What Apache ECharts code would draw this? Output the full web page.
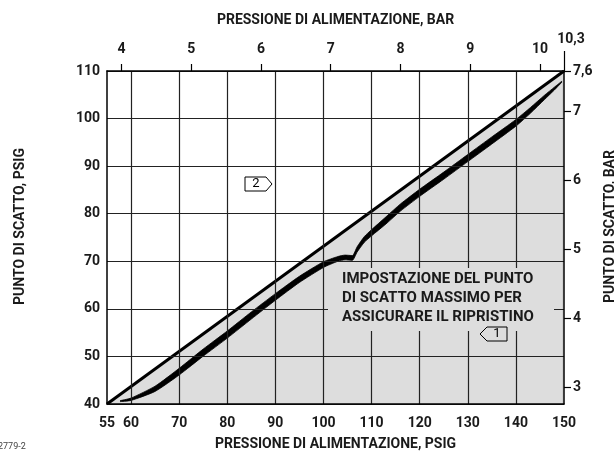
<!DOCTYPE html>
<html>
<head>
<meta charset="utf-8">
<script src="https://cdn.jsdelivr.net/npm/echarts@6/dist/echarts.min.js"></script>
<style>
html, body { margin: 0; padding: 0; background: #fff; }
#main { width: 614px; height: 451px; }
</style>
</head>
<body>
<div id="main"></div>
<script>
// psi per bar, used to line the bar axes up with the psig axes
var PSI_PER_BAR = 14.5;

// bottom axis (psig) labels and grid lines
var psigLabels = [55, 60, 70, 80, 90, 100, 110, 120, 130, 140, 150];
var psigGrid = [60, 70, 80, 90, 100, 110, 120, 130, 140];
// top axis (bar)
var barTopTicks = [4, 5, 6, 7, 8, 9, 10];
// right axis (bar)
var barRightTicks = [3, 4, 5, 6, 7];

// straight limit line
var limitX = [55, 150];
var limitY = [40, 110];

// thick curve, lower and upper edge
var bandX =      [57.7, 60,    65,    70,   75,    80,    85,    90,   95,    100,  103,  104.5, 106,  107,   108.5, 110,   113,   116,   120,   125,   130,   135,   140,  143,   146,    148,   149.6];
var bandBottom = [40.5, 40.75, 42.65, 46.1, 50.05, 53.85, 57.85, 61.8, 65.55, 68.7, 70.0, 70.3,  70.2, 71.95, 74.0,  75.35, 77.85, 80.55, 83.65, 87.25, 90.95, 94.65, 98.4, 101.1, 104.05, 106.0, 107.7];
var bandTop =    [40.7, 41.25, 43.75, 47.5, 51.55, 55.35, 59.35, 63.2, 66.85, 69.9, 71.0, 71.3,  71.2, 73.05, 75.2,  76.65, 79.35, 82.05, 85.15, 88.75, 92.45, 96.15, 99.8, 102.3, 104.95, 106.6, 107.9];

var GRAY = '#dddddd';
var FONT = 'Roboto';

function pairs(xs, ys) {
    var out = [];
    for (var i = 0; i < xs.length; i++) out.push([xs[i], ys[i]]);
    return out;
}

var labelStyle = {fontFamily: FONT, fontWeight: 'bold', fontSize: 14, color: '#1a1a1a'};
var nameStyle = {fontFamily: FONT, fontWeight: 'bold', fontSize: 14, color: '#1a1a1a'};

var myChart = echarts.init(document.getElementById('main'));

var option = {
    animation: false,
    grid: {left: 107, right: 50, top: 71, bottom: 47, outerBoundsMode: 'none', containLabel: false},
    xAxis: [
        {
            type: 'value', position: 'bottom', min: 55, max: 150,
            name: 'PRESSIONE DI ALIMENTAZIONE, PSIG', nameLocation: 'middle', nameGap: 33,
            nameTextStyle: nameStyle,
            axisLine: {lineStyle: {color: '#000', width: 1.5}},
            axisTick: {show: false, customValues: psigGrid},
            axisLabel: Object.assign({customValues: psigLabels, margin: 12, showMinLabel: true}, labelStyle),
            splitLine: {show: true, lineStyle: {color: '#222', width: 1.2}}
        },
        {
            type: 'value', position: 'top', min: 55 / PSI_PER_BAR, max: 150 / PSI_PER_BAR,
            name: 'PRESSIONE DI ALIMENTAZIONE, BAR', nameLocation: 'middle', nameGap: 44,
            nameTextStyle: nameStyle,
            axisLine: {lineStyle: {color: '#000', width: 1.5}},
            axisTick: {show: true, inside: false, length: 7, customValues: barTopTicks, lineStyle: {color: '#000', width: 1.2}},
            axisLabel: Object.assign({customValues: barTopTicks, margin: 15}, labelStyle),
            splitLine: {show: false}
        },
        {
            type: 'value', position: 'top', min: 55 / PSI_PER_BAR, max: 150 / PSI_PER_BAR,
            axisLine: {show: false},
            axisTick: {show: true, inside: false, length: 20, customValues: [150 / PSI_PER_BAR], lineStyle: {color: '#000', width: 1.2}},
            axisLabel: Object.assign({customValues: [150 / PSI_PER_BAR], margin: 25, padding: [0, 0, 0, 14],
                showMaxLabel: true, formatter: function () { return '10,3'; }}, labelStyle),
            splitLine: {show: false}
        }
    ],
    yAxis: [
        {
            type: 'value', position: 'left', min: 40, max: 110, interval: 10,
            name: 'PUNTO DI SCATTO, PSIG', nameLocation: 'middle', nameGap: 80,
            nameTextStyle: Object.assign({padding: [0, 0, 0, 22]}, nameStyle),
            axisLine: {show: true, lineStyle: {color: '#000', width: 1.5}},
            axisTick: {show: false},
            axisLabel: Object.assign({margin: 7}, labelStyle),
            splitLine: {show: true, lineStyle: {color: '#222', width: 1.2}}
        },
        {
            type: 'value', position: 'right', min: 40 / PSI_PER_BAR, max: 110 / PSI_PER_BAR,
            name: 'PUNTO DI SCATTO, BAR', nameLocation: 'middle', nameGap: 36,
            nameTextStyle: Object.assign({padding: [0, 0, 0, 22]}, nameStyle),
            axisLine: {show: true, lineStyle: {color: '#000', width: 1.5}},
            axisTick: {show: true, inside: false, length: 7, customValues: barRightTicks.concat([110 / PSI_PER_BAR]), lineStyle: {color: '#000', width: 1.2}},
            axisLabel: Object.assign({customValues: barRightTicks.concat([110 / PSI_PER_BAR]), margin: 9, showMaxLabel: true,
                formatter: function (v) { return v > 7.5 ? '7,6' : String(Math.round(v)); }}, labelStyle),
            splitLine: {show: false}
        }
    ],
    series: [
        {
            // grey field under the straight line
            type: 'line', z: -3, showSymbol: false, silent: true,
            data: pairs(limitX, limitY),
            lineStyle: {color: '#000', width: 3},
            areaStyle: {color: GRAY, opacity: 1, origin: 'start'}
        },
        {
            type: 'line', z: -2, showSymbol: false, silent: true, smooth: 0.2,
            data: pairs(bandX, bandTop),
            lineStyle: {color: '#000', width: 0.8},
            areaStyle: {color: '#000', opacity: 1, origin: 'start'}
        },
        {
            type: 'line', z: -1, showSymbol: false, silent: true, smooth: 0.2,
            data: pairs(bandX, bandBottom),
            lineStyle: {color: '#000', width: 0.8},
            areaStyle: {color: GRAY, opacity: 1, origin: 'start'}
        }
    ],
    graphic: [
        {type: 'rect', z: 100, shape: {x: 328, y: 268, width: 226, height: 63}, style: {fill: GRAY}},
        {type: 'text', z: 101, left: 342, top: 270,
            style: {text: 'IMPOSTAZIONE DEL PUNTO\nDI SCATTO MASSIMO PER\nASSICURARE IL RIPRISTINO',
                fontFamily: FONT, fontWeight: 'bold', fontSize: 15, lineHeight: 19, fill: '#1a1a1a'}},
        {type: 'polygon', z: 101, shape: {points: [[245, 177], [266, 177], [272, 184], [266, 191], [245, 191]]},
            style: {fill: '#fff', stroke: '#000', lineWidth: 1}},
        {type: 'text', z: 102, x: 256, y: 184,
            style: {text: '2', fontFamily: FONT, fontSize: 13, fill: '#000', align: 'center', verticalAlign: 'middle'}},
        {type: 'polygon', z: 101, shape: {points: [[480, 334], [487, 327], [507, 327], [507, 341], [487, 341]]},
            style: {fill: GRAY, stroke: '#000', lineWidth: 1}},
        {type: 'text', z: 102, x: 497, y: 334,
            style: {text: '1', fontFamily: FONT, fontSize: 13, fill: '#000', align: 'center', verticalAlign: 'middle'}},
        {type: 'text', z: 102, x: -2, y: 447,
            style: {text: '2779-2', fontFamily: FONT, fontSize: 9, fill: '#444', verticalAlign: 'middle'}}
    ]
};

myChart.setOption(option);
</script>
</body>
</html>
